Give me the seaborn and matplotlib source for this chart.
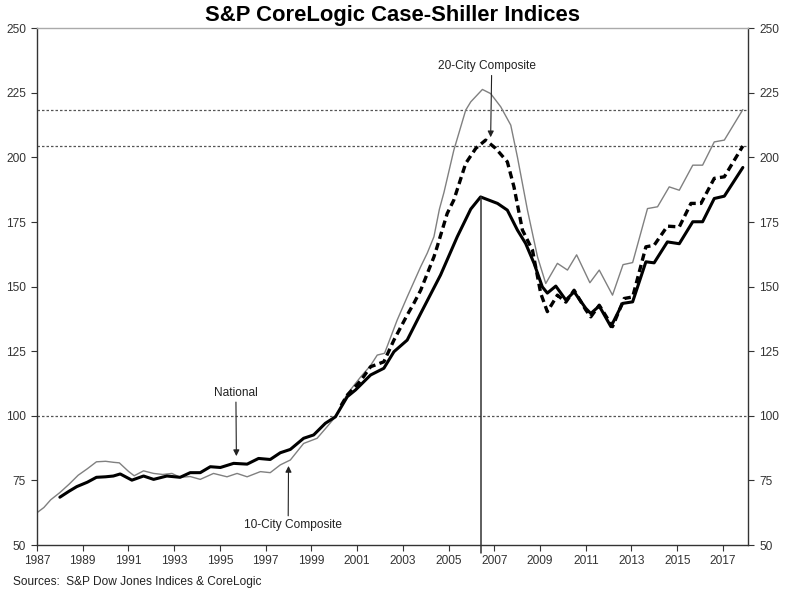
import numpy as np
import matplotlib
matplotlib.use('Agg')
import matplotlib.pyplot as plt
import pandas as pd
import seaborn as sns

sns.set_style('white')
plt.rcParams['font.family'] = ['Liberation Sans', 'DejaVu Sans']

# 10-City Composite
ten_years = [1987.0, 1987.3, 1987.6, 1988.0, 1988.4, 1988.8, 1989.2, 1989.6, 1990.0, 1990.35,
             1990.6, 1991.0, 1991.25, 1991.66, 1992.1, 1992.5, 1992.9, 1993.26, 1993.7, 1994.14,
             1994.72, 1995.31, 1995.75, 1996.19, 1996.77, 1997.2, 1997.64, 1998.08, 1998.66, 1999.25,
             1999.69, 2000.05, 2000.57, 2001.15, 2001.59, 2001.88, 2002.2, 2002.75, 2003.19, 2003.78,
             2004.07, 2004.36, 2004.6, 2004.8, 2005.23, 2005.75, 2005.97, 2006.48, 2006.84, 2007.28,
             2007.72, 2008.01, 2008.45, 2008.89, 2009.25, 2009.76, 2010.2, 2010.6, 2011.18, 2011.59,
             2012.17, 2012.63, 2013.05, 2013.7, 2014.14, 2014.65, 2015.09, 2015.68, 2016.11, 2016.62,
             2017.06, 2017.87]
ten_vals = [62.5, 64.5, 67.5, 70.3, 73.5, 77.0, 79.5, 82.2, 82.4, 82.0,
            81.8, 78.5, 76.8, 78.7, 77.7, 77.3, 77.7, 76.2, 76.5, 75.4,
            77.7, 76.4, 77.7, 76.4, 78.4, 78.0, 81.0, 82.9, 89.3, 91.3,
            95.8, 99.6, 108.5, 115.0, 119.5, 123.5, 124.2, 137.0, 146.0, 157.7,
            163.0, 169.3, 180.0, 186.5, 202.8, 218.3, 221.5, 226.3, 224.7, 219.6,
            212.5, 200.2, 179.6, 161.5, 151.2, 159.0, 156.4, 162.3, 151.5, 156.4,
            146.7, 158.5, 159.3, 180.2, 180.9, 188.6, 187.3, 197.0, 197.0, 206.0,
            206.7, 218.5]

# National
nat_years = [1988.0, 1988.4, 1988.74, 1989.2, 1989.6, 1990.0, 1990.34, 1990.64, 1991.15, 1991.66,
             1992.1, 1992.68, 1993.26, 1993.7, 1994.14, 1994.58, 1995.02, 1995.6, 1996.19, 1996.69,
             1997.2, 1997.64, 1998.08, 1998.66, 1999.1, 1999.61, 2000.05, 2000.57, 2000.93, 2001.59,
             2002.17, 2002.61, 2003.19, 2003.78, 2004.65, 2005.38, 2005.97, 2006.4, 2007.14, 2007.57,
             2008.01, 2008.37, 2008.74, 2009.1, 2009.32, 2009.69, 2010.13, 2010.49, 2011.0, 2011.22,
             2011.59, 2012.1, 2012.61, 2013.05, 2013.63, 2013.99, 2014.57, 2015.09, 2015.68, 2016.11,
             2016.62, 2017.06, 2017.87]
nat_vals = [68.5, 70.8, 72.6, 74.3, 76.2, 76.4, 76.7, 77.5, 75.1, 76.7,
            75.4, 76.7, 76.2, 78.0, 78.0, 80.3, 80.0, 81.6, 81.3, 83.5,
            83.1, 85.7, 87.0, 91.3, 92.6, 97.1, 99.6, 107.4, 110.0, 115.8,
            118.4, 124.8, 129.3, 139.6, 154.5, 169.3, 180.0, 184.7, 182.2, 179.6,
            171.9, 166.7, 159.0, 149.9, 147.5, 150.2, 144.8, 148.0, 141.6, 139.6,
            142.5, 134.5, 143.5, 144.1, 159.6, 159.2, 167.3, 166.6, 175.1, 175.1,
            184.1, 185.0, 196.1]

# 20-City Composite
twenty_years = [2000.3, 2000.57, 2001.15, 2001.59, 2002.17, 2002.61, 2003.19, 2003.48, 2003.78, 2004.36,
                2004.5, 2004.94, 2005.23, 2005.75, 2006.19, 2006.62, 2007.06, 2007.57, 2007.86, 2008.23,
                2008.67, 2009.03, 2009.32, 2009.76, 2010.13, 2010.49, 2011.0, 2011.22, 2011.59, 2012.17,
                2012.68, 2013.05, 2013.63, 2013.99, 2014.57, 2015.09, 2015.6, 2016.04, 2016.62, 2017.06,
                2017.87]
twenty_vals = [104.0, 108.0, 113.5, 119.0, 120.9, 129.3, 139.0, 143.5, 148.6, 161.5,
               165.4, 178.3, 183.5, 197.7, 203.5, 206.7, 203.5, 198.3, 188.6, 171.9,
               164.1, 147.4, 140.3, 146.7, 144.0, 148.6, 141.0, 138.3, 142.8, 134.5,
               145.4, 146.0, 165.4, 166.0, 173.4, 173.1, 182.2, 182.2, 191.9, 192.5,
               204.4]

fig = plt.figure(figsize=(7.99, 6.08), dpi=100)
ax = fig.add_axes([0.0463, 0.1036, 0.890, 0.850])

# reference lines: base 100 and the latest composite values
dot = (0, (2, 1.6))
for yv in [100, ten_vals[-1], twenty_vals[-1]]:
    ax.axhline(yv, color='#555555', lw=0.9, ls=dot, zorder=1)

sns.lineplot(x=ten_years, y=ten_vals, color='#808080', lw=1.0, ax=ax, zorder=2)
sns.lineplot(x=twenty_years, y=twenty_vals, color='black', lw=2.4, ax=ax,
             linestyle=(0, (2.2, 1.3)), zorder=3)
sns.lineplot(x=nat_years, y=nat_vals, color='black', lw=2.2, ax=ax, zorder=4)

# vertical line at the pre-crisis National peak
boom = [k for k, yr in enumerate(nat_years) if yr < 2010]
i = max(boom, key=lambda k: nat_vals[k])
ax.plot([nat_years[i], nat_years[i]], [46.8, nat_vals[i]], color='#333333', lw=1.1,
        clip_on=False, zorder=5)

ax.set_xlim(1987, 2018.1)
ax.set_ylim(50, 250)
ax.set_xticks(range(1987, 2018, 2))
ax.set_yticks(range(50, 251, 25))
ax.set_xlabel('')
ax.set_ylabel('')

ax.tick_params(axis='both', direction='out', length=4, width=0.8, colors='#333333',
               labelsize=8.6)
ax.tick_params(axis='x', bottom=True, pad=3)
ax.tick_params(axis='y', left=True, right=True, labelright=True, pad=4)

for s in ['left', 'bottom', 'right']:
    ax.spines[s].set_color('#333333')
    ax.spines[s].set_linewidth(1.0)
ax.spines['top'].set_color('#aaaaaa')
ax.spines['top'].set_linewidth(1.0)

arrow = dict(arrowstyle='-|>', color='#222222', lw=0.8, mutation_scale=9, shrinkA=0, shrinkB=0)
ax.annotate('20-City Composite', xy=(2006.84, 207.8), xytext=(2006.67, 235.3),
            ha='center', va='center', fontsize=8.6, color='#222222',
            arrowprops=dict(arrow, relpos=(0.55, 0)))
ax.annotate('National', xy=(1995.72, 84.4), xytext=(1995.7, 108.9),
            ha='center', va='center', fontsize=8.6, color='#222222',
            arrowprops=dict(arrow, relpos=(0.5, 0)))
ax.annotate('10-City Composite', xy=(1998.0, 80.6), xytext=(1998.2, 57.7),
            ha='center', va='center', fontsize=8.6, color='#222222',
            arrowprops=dict(arrow, relpos=(0.45, 1)))

fig.text(0.4915, 0.975, 'S&P CoreLogic Case-Shiller Indices', ha='center', va='center',
         fontsize=15.8, weight='bold', color='black')
fig.text(0.0163, 0.0428, 'Sources:  S&P Dow Jones Indices & CoreLogic', ha='left',
         va='center', fontsize=8.6, color='#222222')

plt.savefig('out.png', dpi=100)
